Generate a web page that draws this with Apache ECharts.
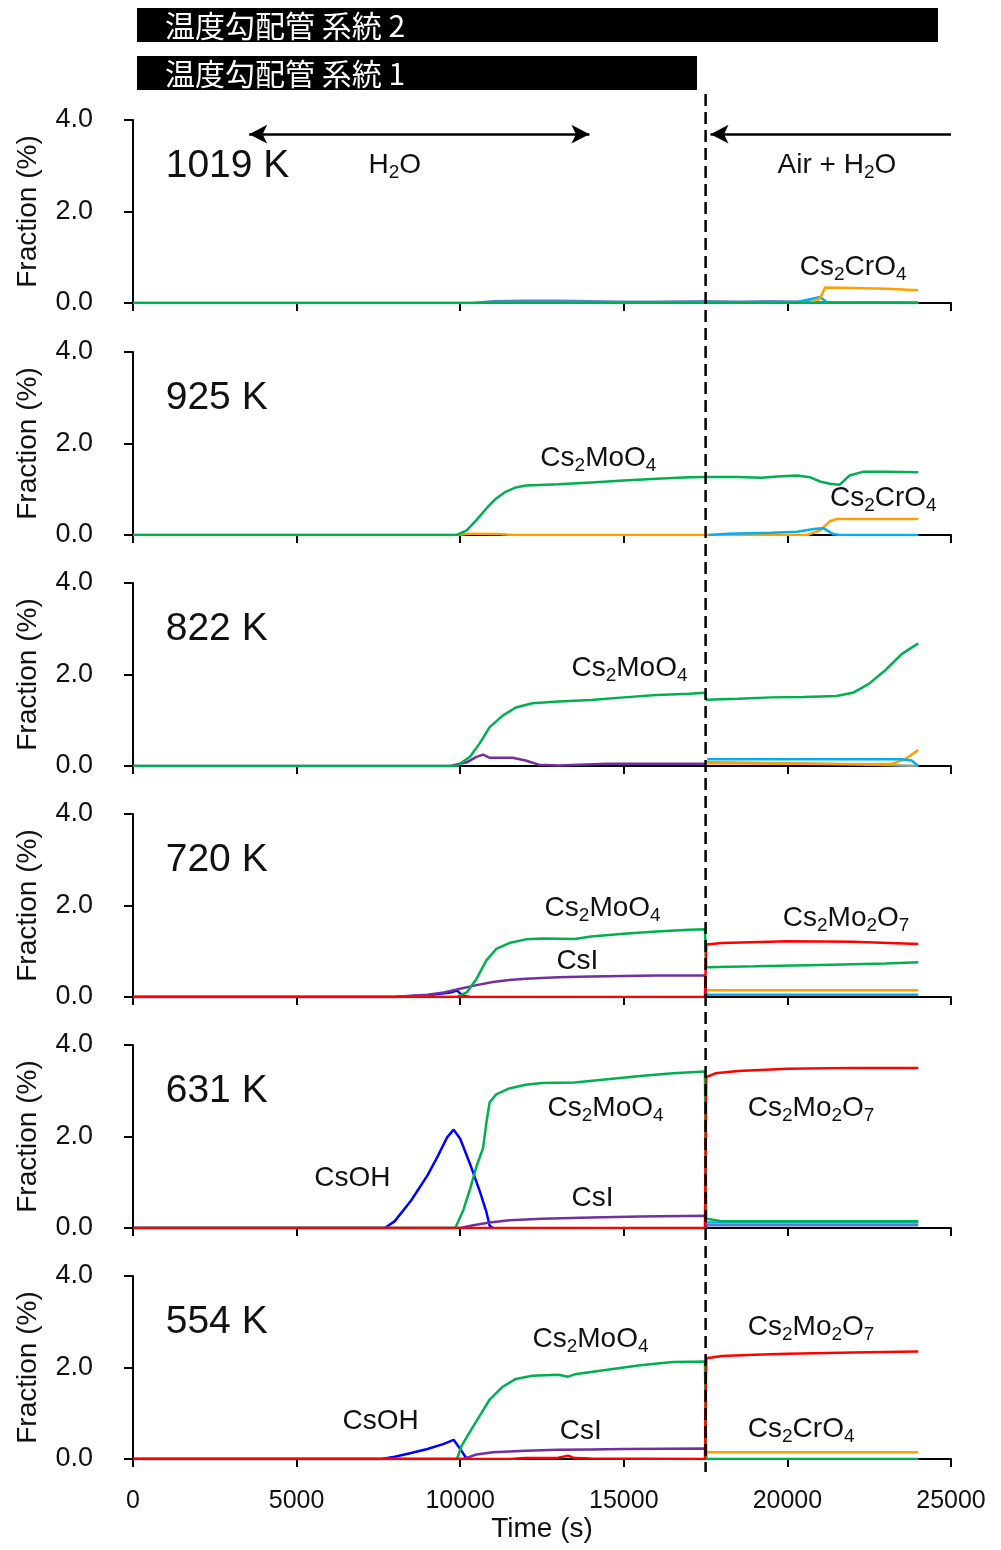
<!DOCTYPE html>
<html>
<head>
<meta charset="utf-8">
<script src="https://cdn.jsdelivr.net/npm/echarts@6/dist/echarts.min.js"></script>
<style>
  html, body { margin: 0; padding: 0; background: #fff; }
  #main { width: 1001px; height: 1550px; }
</style>
</head>
<body>
<div id="main"></div>
<script>
// panel temperatures, top to bottom
const temps = ['1019 K', '925 K', '822 K', '720 K', '631 K', '554 K']
const switchTime = 17500

// 1019 K
const k1019_steel = [[0, 0], [10400, 0], [11000, 0.04], [12000, 0.05], [13000, 0.05], [14000, 0.04], [15000, 0.03], [16000, 0.03], [17500, 0.04], [18500, 0.03], [19500, 0.04], [20500, 0.03], [21000, 0.02], [24000, 0.01]]
const k1019_lightblue = [[17500, 0], [20300, 0.02], [20800, 0.1], [21000, 0.13], [21200, 0.02], [24000, 0]]
const k1019_orange = [[20700, 0], [21000, 0.1], [21150, 0.34], [22000, 0.33], [23000, 0.31], [24000, 0.28]]
const k1019_green = [[0, 0], [24000, 0]]

// 925 K
const k925_orange = [[0, 0], [9900, 0], [10300, 0.03], [11200, 0.02], [11600, 0], [20600, 0], [21000, 0.1], [21300, 0.3], [21500, 0.35], [24000, 0.35]]
const k925_lightblue = [[17600, 0], [18200, 0.03], [19500, 0.05], [20300, 0.07], [20800, 0.13], [21100, 0.15], [21400, 0.02], [21600, 0], [24000, 0]]
const k925_green = [[0, 0], [9900, 0], [10200, 0.1], [10500, 0.33], [10800, 0.58], [11100, 0.8], [11400, 0.95], [11700, 1.04], [12000, 1.08], [13000, 1.11], [14000, 1.15], [15000, 1.19], [16000, 1.23], [17000, 1.26], [17500, 1.27], [18500, 1.27], [19200, 1.25], [19700, 1.28], [20300, 1.3], [20700, 1.26], [21000, 1.17], [21300, 1.12], [21600, 1.1], [21900, 1.3], [22300, 1.38], [23000, 1.38], [24000, 1.37]]

// 822 K
const k822_gray = [[17550, 0.08], [20000, 0.06], [22000, 0.04], [24000, 0]]
const k822_orange = [[17550, 0.06], [22500, 0.04], [23200, 0.05], [23600, 0.15], [24000, 0.35]]
const k822_lightblue = [[17550, 0.15], [23500, 0.15], [23800, 0.12], [24000, 0]]
const k822_purple = [[0, 0], [9700, 0], [10200, 0.08], [10500, 0.2], [10700, 0.25], [10900, 0.18], [11600, 0.18], [12000, 0.12], [12400, 0.03], [13000, 0.01], [14500, 0.05], [16500, 0.05], [17500, 0.05]]
const k822_green = [[0, 0], [9900, 0], [10300, 0.2], [10600, 0.5], [10900, 0.85], [11300, 1.1], [11700, 1.28], [12200, 1.37], [13000, 1.41], [14000, 1.44], [15000, 1.5], [16000, 1.55], [17000, 1.58], [17480, 1.6], [17520, 1.45], [18500, 1.47], [19500, 1.5], [20500, 1.51], [21500, 1.53], [22000, 1.6], [22500, 1.8], [23000, 2.1], [23500, 2.45], [24000, 2.68]]

// 720 K
const k720_lightblue = [[17520, 0.05], [24000, 0.05]]
const k720_orange = [[17520, 0.15], [24000, 0.15]]
const k720_blue = [[0, 0], [8000, 0], [9000, 0.04], [9700, 0.1], [9900, 0.14], [10100, 0.02], [10300, 0]]
const k720_purple = [[0, 0], [8000, 0], [8500, 0.03], [9000, 0.05], [9500, 0.1], [10000, 0.18], [10500, 0.26], [11000, 0.33], [11500, 0.37], [12000, 0.4], [13000, 0.43], [14000, 0.45], [15000, 0.46], [16000, 0.47], [17480, 0.47], [17520, 0]]
const k720_green = [[0, 0], [9900, 0], [10200, 0.1], [10500, 0.4], [10800, 0.8], [11100, 1.05], [11500, 1.18], [12000, 1.26], [12500, 1.28], [13500, 1.27], [14000, 1.32], [15000, 1.38], [16000, 1.43], [17000, 1.47], [17480, 1.48], [17520, 0.65], [19000, 0.67], [21000, 0.7], [23000, 0.73], [24000, 0.76]]
const k720_red = [[0, 0], [17480, 0], [17520, 1.15], [18000, 1.18], [20000, 1.22], [22000, 1.21], [24000, 1.16]]

// 631 K
const k631_steel = [[17520, 0.06], [24000, 0.06]]
const k631_lightblue = [[17520, 0.12], [24000, 0.12]]
const k631_blue = [[0, 0], [7700, 0], [8000, 0.15], [8500, 0.6], [9000, 1.15], [9300, 1.55], [9600, 1.98], [9800, 2.15], [10000, 1.95], [10300, 1.4], [10600, 0.8], [10800, 0.35], [10900, 0.05], [11000, 0]]
const k631_purple = [[0, 0], [10000, 0], [10400, 0.06], [10900, 0.12], [11500, 0.17], [12500, 0.2], [14000, 0.23], [15500, 0.25], [17480, 0.27], [17520, 0]]
const k631_green = [[0, 0], [9850, 0], [10100, 0.4], [10300, 0.85], [10500, 1.35], [10700, 1.75], [10800, 2.3], [10900, 2.75], [11100, 2.92], [11500, 3.05], [12000, 3.13], [12500, 3.17], [13500, 3.18], [14500, 3.25], [15500, 3.32], [16500, 3.38], [17480, 3.42], [17520, 0.2], [18000, 0.15], [24000, 0.15]]
const k631_red = [[0, 0], [17480, 0], [17520, 3.3], [17800, 3.38], [18500, 3.43], [20000, 3.48], [22000, 3.5], [24000, 3.5]]

// 554 K
const k554_orange = [[17520, 0.15], [24000, 0.15]]
const k554_blue = [[0, 0], [7600, 0], [8000, 0.05], [8500, 0.13], [9000, 0.22], [9500, 0.33], [9800, 0.42], [10000, 0.22], [10200, 0]]
const k554_purple = [[0, 0], [10100, 0], [10500, 0.1], [11000, 0.15], [12000, 0.18], [13000, 0.2], [14000, 0.21], [15000, 0.22], [17480, 0.23], [17520, 0]]
const k554_green = [[0, 0], [9900, 0], [10050, 0.3], [10300, 0.6], [10600, 0.95], [10900, 1.3], [11300, 1.58], [11700, 1.75], [12200, 1.82], [13000, 1.84], [13300, 1.8], [13500, 1.85], [14500, 1.95], [15500, 2.05], [16500, 2.12], [17480, 2.13], [17520, 0], [24000, 0]]
const k554_red = [[0, 0], [11500, 0], [12000, 0.02], [13000, 0.03], [13300, 0.07], [13500, 0.02], [14000, 0.01], [17480, 0], [17520, 2.2], [18000, 2.25], [19000, 2.28], [20000, 2.3], [22000, 2.33], [24000, 2.35]]

const C = {
  green: '#00b050',
  purple: '#7030a0',
  blue: '#0000ff',
  red: '#ff0000',
  orange: '#ffa000',
  lightblue: '#00b0f0',
  steel: '#5b7fd0',
  gray: '#8fa08f'
}

// series of each panel, in drawing order
const panels = [
  [['steel', k1019_steel], ['lightblue', k1019_lightblue], ['orange', k1019_orange], ['green', k1019_green]],
  [['orange', k925_orange], ['lightblue', k925_lightblue], ['green', k925_green]],
  [['gray', k822_gray], ['orange', k822_orange], ['lightblue', k822_lightblue], ['purple', k822_purple], ['green', k822_green]],
  [['lightblue', k720_lightblue], ['orange', k720_orange], ['blue', k720_blue], ['purple', k720_purple], ['green', k720_green], ['red', k720_red]],
  [['steel', k631_steel], ['lightblue', k631_lightblue], ['blue', k631_blue], ['purple', k631_purple], ['green', k631_green], ['red', k631_red]],
  [['orange', k554_orange], ['blue', k554_blue], ['purple', k554_purple], ['green', k554_green], ['red', k554_red]]
]

// text notes: [text, time, fraction] (left edge of text)
const notes = [
  [['H2O', 7200, 3.02], ['Air + H2O', 19700, 3.02], ['Cs2CrO4', 20380, 0.79]],
  [['Cs2MoO4', 12450, 1.68], ['Cs2CrO4', 21300, 0.81]],
  [['Cs2MoO4', 13400, 2.14]],
  [['Cs2MoO4', 12580, 1.95], ['CsI', 12940, 0.77], ['Cs2Mo2O7', 19860, 1.73]],
  [['CsOH', 5540, 1.09], ['Cs2MoO4', 12670, 2.62], ['CsI', 13400, 0.66], ['Cs2Mo2O7', 18790, 2.62]],
  [['CsOH', 6400, 0.83], ['Cs2MoO4', 12210, 2.62], ['CsI', 13040, 0.61], ['Cs2Mo2O7', 18790, 2.89], ['Cs2CrO4', 18790, 0.66]]
]

const tops = [120, 352, 583, 814, 1045, 1276]
const font = 'Liberation Sans, Arial, sans-serif'

function chem (s) {
  return s.replace(/([A-Za-z])(\d+)/g, '$1{s|$2}')
}

const grid = []
const xAxis = []
const yAxis = []
const series = []

tops.forEach((top, i) => {
  const last = i === tops.length - 1
  grid.push({ left: 133, width: 818, top: top, height: 183 })
  xAxis.push({
    gridIndex: i,
    type: 'value',
    min: 0,
    max: 25000,
    interval: 5000,
    splitLine: { show: false },
    axisLine: { lineStyle: { color: '#000', width: 2 } },
    axisTick: { show: true, length: 8, lineStyle: { color: '#000', width: 2 } },
    axisLabel: { show: last, margin: 30, fontSize: 25, color: '#111', fontFamily: font, formatter: v => String(v) },
    name: last ? 'Time (s)' : '',
    nameLocation: 'middle',
    nameGap: 56,
    nameTextStyle: { fontSize: 28, color: '#111', fontFamily: font }
  })
  yAxis.push({
    gridIndex: i,
    type: 'value',
    min: 0,
    max: 4,
    interval: 2,
    splitLine: { show: false },
    axisLine: { show: true, lineStyle: { color: '#000', width: 2 } },
    axisTick: { show: true, length: 9, lineStyle: { color: '#000', width: 2 } },
    axisLabel: { margin: 40, fontSize: 27, color: '#111', fontFamily: font, formatter: v => v.toFixed(1) },
    name: 'Fraction (%)',
    nameLocation: 'middle',
    nameGap: 91,
    nameTextStyle: { fontSize: 28, color: '#111', fontFamily: font }
  })

  panels[i].forEach(([col, data], j) => {
    const s = {
      type: 'line',
      xAxisIndex: i,
      yAxisIndex: i,
      data: data,
      showSymbol: false,
      symbol: 'none',
      animation: false,
      lineStyle: { color: C[col], width: 2.5 },
      itemStyle: { color: C[col] }
    }
    if (j === 0) {
      const marks = [{ name: '{T|' + temps[i] + '}', coord: [1000, 3.0] }]
      notes[i].forEach(n => marks.push({ name: chem(n[0]), coord: [n[1], n[2]] }))
      s.markPoint = {
        symbol: 'circle',
        symbolSize: 0,
        animation: false,
        data: marks,
        label: {
          show: true,
          position: 'right',
          distance: 0,
          formatter: p => p.name,
          color: '#111',
          fontFamily: font,
          fontSize: 28,
          lineHeight: 34,
          rich: {
            s: { fontSize: 19, lineHeight: 19, verticalAlign: 'bottom', color: '#111', fontFamily: font },
            T: { fontSize: 39, lineHeight: 44, color: '#111', fontFamily: font }
          }
        }
      }
      if (i === 0) {
        s.markLine = {
          silent: true,
          animation: false,
          symbolSize: [14, 18],
          label: { show: false },
          lineStyle: { color: '#000', width: 2.5, type: 'solid' },
          data: [
            [{ coord: [3550, 3.69], symbol: 'arrow' }, { coord: [13950, 3.69], symbol: 'arrow' }],
            [{ coord: [17650, 3.69], symbol: 'arrow' }, { coord: [25000, 3.69], symbol: 'none' }]
          ]
        }
      }
    }
    series.push(s)
  })
})

const chart = echarts.init(document.getElementById('main'), null, { renderer: 'canvas' })
chart.setOption({
  animation: false,
  backgroundColor: '#fff',
  grid, xAxis, yAxis, series
})

// dashed switch line across all panels and the header bars
const lineX = chart.convertToPixel({ gridIndex: 0 }, [switchTime, 0])[0]
const barFont = '30px "Noto Sans CJK JP", sans-serif'
chart.setOption({
  graphic: [
    { type: 'rect', shape: { x: 137, y: 8, width: 801, height: 34 }, style: { fill: '#000' } },
    { type: 'text', x: 165, y: 26, style: { text: '温度勾配管 系統 2', fill: '#fff', font: barFont, textVerticalAlign: 'middle' } },
    { type: 'rect', shape: { x: 137, y: 56, width: 560, height: 34 }, style: { fill: '#000' } },
    { type: 'text', x: 165, y: 74, style: { text: '温度勾配管 系統 1', fill: '#fff', font: barFont, textVerticalAlign: 'middle' } },
    { type: 'line', z: 100, shape: { x1: lineX, y1: 94, x2: lineX, y2: 1472 }, style: { stroke: '#000', lineWidth: 2.5, lineDash: [12, 6] } }
  ]
})
</script>
</body>
</html>
